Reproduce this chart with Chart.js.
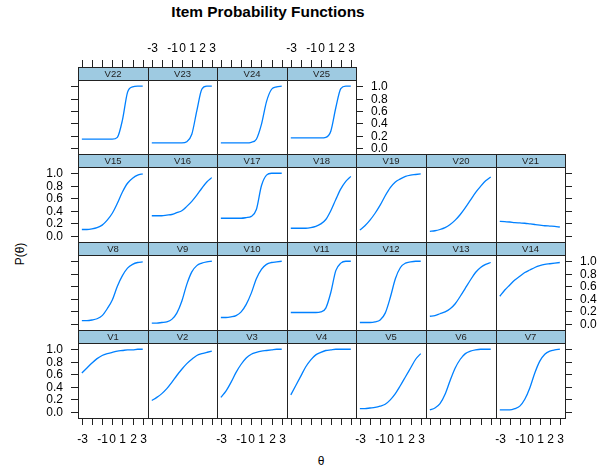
<!DOCTYPE html>
<html>
<head>
<meta charset="utf-8">
<title>Item Probability Functions</title>
<script src="https://cdn.jsdelivr.net/npm/chart.js@4.4.1/dist/chart.umd.min.js"></script>
<style>
  body { margin: 0; background: #fff; width: 600px; height: 471px; position: relative; overflow: hidden;
         font-family: 'Liberation Sans', Arial, sans-serif; color: #000; }
  canvas.panel { position: absolute; }
  #title { position: absolute; left: 0; top: 3px; width: 536px; text-align: center; font-weight: bold; font-size: 15.4px; }
  #ylab { position: absolute; left: -30px; top: 247px; width: 100px; text-align: center; font-size: 12px; transform: rotate(-90deg); }
  #xlab { position: absolute; left: 271px; top: 454px; width: 100px; text-align: center; font-size: 12px; }
</style>
</head>
<body>
<div id="title">Item Probability Functions</div>
<div id="ylab">P(θ)</div>
<div id="xlab">θ</div>
<script>
// theta grid the curves were read at
const thetas = [-3, -2.5, -2, -1.5, -1, -0.5, 0, 0.5, 1, 1.5, 2, 2.5, 3];

// P(theta) per item
const V1  = [0.62, 0.70, 0.78, 0.85, 0.90, 0.93, 0.95, 0.97, 0.98, 0.99, 0.99, 1.00, 1.00];
const V2  = [0.18, 0.23, 0.29, 0.37, 0.47, 0.58, 0.68, 0.77, 0.84, 0.90, 0.93, 0.95, 0.97];
const V3  = [0.23, 0.33, 0.47, 0.63, 0.76, 0.86, 0.92, 0.95, 0.97, 0.98, 0.99, 1.00, 1.00];
const V4  = [0.27, 0.42, 0.57, 0.72, 0.83, 0.91, 0.95, 0.98, 0.99, 1.00, 1.00, 1.00, 1.00];
const V5  = [0.05, 0.05, 0.06, 0.07, 0.09, 0.12, 0.19, 0.29, 0.42, 0.56, 0.70, 0.84, 0.93];
const V6  = [0.03, 0.06, 0.13, 0.28, 0.50, 0.70, 0.84, 0.93, 0.97, 0.99, 1.00, 1.00, 1.00];
const V7  = [0.03, 0.03, 0.03, 0.05, 0.09, 0.20, 0.38, 0.62, 0.81, 0.92, 0.97, 0.99, 1.00];
const V8  = [0.05, 0.05, 0.06, 0.08, 0.13, 0.24, 0.38, 0.60, 0.77, 0.89, 0.95, 0.98, 0.99];
const V9  = [0.01, 0.01, 0.02, 0.03, 0.07, 0.17, 0.36, 0.63, 0.83, 0.93, 0.97, 0.99, 1.00];
const V10 = [0.10, 0.10, 0.11, 0.13, 0.19, 0.31, 0.49, 0.72, 0.87, 0.95, 0.98, 0.99, 1.00];
const V11 = [0.18, 0.18, 0.18, 0.18, 0.18, 0.18, 0.19, 0.25, 0.50, 0.85, 0.97, 1.00, 1.00];
const V12 = [0.02, 0.02, 0.02, 0.03, 0.06, 0.17, 0.42, 0.72, 0.90, 0.97, 0.99, 1.00, 1.00];
const V13 = [0.12, 0.13, 0.16, 0.19, 0.24, 0.32, 0.44, 0.57, 0.70, 0.82, 0.90, 0.95, 0.98];
const V14 = [0.44, 0.54, 0.62, 0.70, 0.76, 0.82, 0.86, 0.90, 0.93, 0.95, 0.96, 0.97, 0.98];
const V15 = [0.10, 0.10, 0.11, 0.13, 0.17, 0.25, 0.36, 0.52, 0.70, 0.84, 0.92, 0.97, 0.99];
const V16 = [0.32, 0.32, 0.32, 0.33, 0.34, 0.37, 0.40, 0.47, 0.55, 0.65, 0.76, 0.86, 0.93];
const V17 = [0.28, 0.28, 0.28, 0.28, 0.28, 0.29, 0.31, 0.42, 0.80, 0.97, 1.00, 1.00, 1.00];
const V18 = [0.12, 0.12, 0.12, 0.12, 0.13, 0.15, 0.19, 0.26, 0.40, 0.58, 0.75, 0.87, 0.95];
const V19 = [0.09, 0.16, 0.25, 0.36, 0.49, 0.64, 0.77, 0.86, 0.91, 0.95, 0.97, 0.98, 0.99];
const V20 = [0.07, 0.08, 0.10, 0.13, 0.18, 0.25, 0.34, 0.45, 0.57, 0.69, 0.79, 0.88, 0.94];
const V21 = [0.23, 0.225, 0.22, 0.21, 0.205, 0.20, 0.19, 0.18, 0.17, 0.16, 0.155, 0.15, 0.14];
const V22 = [0.14, 0.14, 0.14, 0.14, 0.14, 0.14, 0.14, 0.17, 0.45, 0.90, 0.99, 1.00, 1.00];
const V23 = [0.08, 0.08, 0.08, 0.08, 0.08, 0.08, 0.08, 0.10, 0.22, 0.60, 0.95, 1.00, 1.00];
const V24 = [0.08, 0.08, 0.08, 0.08, 0.08, 0.08, 0.09, 0.14, 0.38, 0.75, 0.95, 0.99, 1.00];
const V25 = [0.16, 0.16, 0.16, 0.16, 0.16, 0.16, 0.16, 0.17, 0.27, 0.65, 0.96, 1.00, 1.00];

const itemNames = ['V1','V2','V3','V4','V5','V6','V7','V8','V9','V10','V11','V12','V13','V14',
                   'V15','V16','V17','V18','V19','V20','V21','V22','V23','V24','V25'];
const itemValues = [V1,V2,V3,V4,V5,V6,V7,V8,V9,V10,V11,V12,V13,V14,
                    V15,V16,V17,V18,V19,V20,V21,V22,V23,V24,V25];

// axis ticks
const xTicks = [-3, -2, -1, 0, 1, 2, 3];
const xTickLabels = ['-3', '', '-1', '0', '1', '2', '3'];
const yTicks = [0, 0.2, 0.4, 0.6, 0.8, 1.0];
const yTickLabels = ['0.0', '0.2', '0.4', '0.6', '0.8', '1.0'];

// panel grid (lattice layout, 7 columns x 4 rows, V1 row at the bottom)
const colEdges = [78, 148, 217, 287, 356, 426, 496, 565];
const rowEdges = [67, 154, 242, 330, 418];   // strip tops ... last panel bottom
const STRIP = 13;
const ML = 50, MR = 50, MT = 30, MB = 35;
const TICK_FONT = "12px 'Liberation Sans', Arial, sans-serif";

const panelDecor = {
  id: 'panelDecor',
  afterDraw(chart, args, o) {
    const { ctx, chartArea: a, scales: { x, y } } = chart;
    const sTop = a.top - STRIP;
    ctx.save();

    // strip
    ctx.fillStyle = '#9ecae1';
    ctx.fillRect(a.left, sTop, a.right - a.left, STRIP);
    ctx.fillStyle = '#222';
    ctx.font = "9.5px 'Liberation Sans', Arial, sans-serif";
    ctx.textAlign = 'center';
    ctx.textBaseline = 'middle';
    ctx.fillText(o.name, (a.left + a.right) / 2, sTop + STRIP / 2 + 0.5);

    // frame
    ctx.strokeStyle = '#222';
    ctx.lineWidth = 1;
    ctx.strokeRect(Math.round(a.left) + 0.5, Math.round(sTop) + 0.5, Math.round(a.right - a.left), Math.round(a.bottom - sTop));
    ctx.beginPath();
    ctx.moveTo(a.left, Math.round(a.top) + 0.5);
    ctx.lineTo(a.right, Math.round(a.top) + 0.5);
    ctx.stroke();

    ctx.font = TICK_FONT;
    ctx.fillStyle = '#000';
    ctx.beginPath();
    xTicks.forEach((t, i) => {
      const px = Math.round(x.getPixelForValue(t)) + 0.5;
      if (o.bottom) { ctx.moveTo(px, a.bottom); ctx.lineTo(px, a.bottom + 7); }
      if (o.top)    { ctx.moveTo(px, sTop - 7); ctx.lineTo(px, sTop); }
      ctx.textAlign = 'center';
      if (o.bottomLabels) ctx.fillText(xTickLabels[i], px, a.bottom + 22);
      if (o.topLabels) ctx.fillText(xTickLabels[i], px, sTop - 18);
    });
    yTicks.forEach((v, i) => {
      const py = Math.round(y.getPixelForValue(v)) + 0.5;
      if (o.left)  { ctx.moveTo(a.left - 7, py); ctx.lineTo(a.left, py); }
      if (o.right) { ctx.moveTo(a.right, py); ctx.lineTo(a.right + 7, py); }
      if (o.leftLabels)  { ctx.textAlign = 'right'; ctx.fillText(yTickLabels[i], a.left - 15, py); }
      if (o.rightLabels) { ctx.textAlign = 'left';  ctx.fillText(yTickLabels[i], a.right + 15, py); }
    });
    ctx.stroke();
    ctx.restore();
  }
};

itemNames.forEach((name, i) => {
  const col = i % 7;
  const row = 3 - Math.floor(i / 7);          // 0 = top row
  const lastInRow = (i === itemNames.length - 1) || col === 6;

  const left = colEdges[col], right = colEdges[col + 1];
  const top = rowEdges[row], bottom = rowEdges[row + 1];

  const canvas = document.createElement('canvas');
  canvas.className = 'panel';
  canvas.width = right - left + ML + MR;
  canvas.height = bottom - top + MT + MB;
  canvas.style.left = (left - ML) + 'px';
  canvas.style.top = (top - MT) + 'px';
  document.body.appendChild(canvas);

  new Chart(canvas, {
    type: 'line',
    data: {
      datasets: [{
        data: thetas.map((t, k) => ({ x: t, y: itemValues[i][k] })),
        borderColor: '#0080ff',
        borderWidth: 1.3,
        pointRadius: 0,
        cubicInterpolationMode: 'monotone',
        fill: false
      }]
    },
    options: {
      responsive: false,
      animation: false,
      events: [],
      layout: { padding: { left: ML, right: MR, top: MT + STRIP, bottom: MB } },
      plugins: {
        legend: { display: false },
        tooltip: { enabled: false },
        panelDecor: {
          name: name,
          bottom: row === 3,
          bottomLabels: row === 3 && col % 2 === 0,
          top: row === 0,
          topLabels: row === 0 && col % 2 === 1,
          left: col === 0,
          leftLabels: col === 0 && (row === 1 || row === 3),
          right: lastInRow,
          rightLabels: lastInRow && (row === 0 || row === 2)
        }
      },
      scales: {
        x: { type: 'linear', display: false, min: -3.38, max: 3.52 },
        y: { type: 'linear', display: false, min: -0.1, max: 1.1 }
      }
    },
    plugins: [panelDecor]
  });
});
</script>
</body>
</html>
